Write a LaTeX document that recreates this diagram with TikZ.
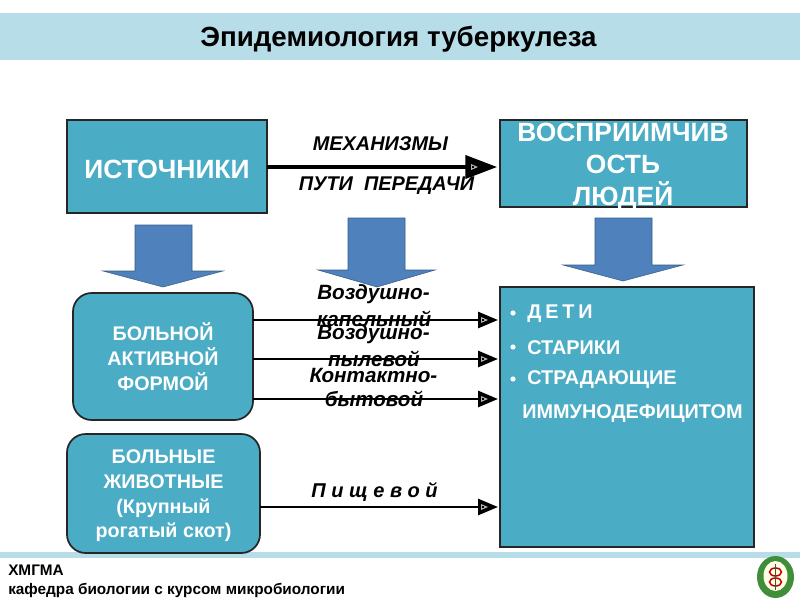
\documentclass[tikz,border=0pt]{standalone}
\usepackage{fontspec}
\setmainfont{Liberation Sans}
\usetikzlibrary{arrows.meta}
\definecolor{boxc}{HTML}{4BACC6}
\definecolor{bandc}{HTML}{B7DDE8}
\definecolor{blockc}{HTML}{4F81BD}
\definecolor{medg}{HTML}{3F8F3A}
\tikzset{x=0.75pt,y=-0.75pt,
  sq/.style={draw=black!85,line width=1.3pt,fill=boxc,text=white,font=\fontsize{19.8}{22}\selectfont\bfseries,align=center,inner sep=0pt,outer sep=0pt},
  rnd/.style={sq,rounded corners=14pt,font=\fontsize{14.8}{18.5}\selectfont\bfseries},
  boxtext/.style={text=white,align=center,inner sep=0pt},
  conn/.style={draw=black,line width=2.1pt,shorten >=1.5pt,-{Triangle[length=15pt,width=12pt]}},
  bigconn/.style={draw=black,line width=3.6pt,shorten >=2pt,-{Triangle[length=24pt,width=17pt]}},
  blockarr/.style={fill=blockc,draw=blockc!70!black,line width=0.4pt},
  lab/.style={font=\fontsize{15.5}{16}\selectfont\itshape\bfseries,align=center,inner sep=0pt,text=black},
  lab2/.style={lab,font=\fontsize{14.9}{16}\selectfont\itshape\bfseries},
  item/.style={anchor=west,text=white,font=\fontsize{14.9}{16}\selectfont\bfseries,inner sep=0pt},
  foot/.style={anchor=west,font=\fontsize{11.5}{13}\selectfont\bfseries,inner sep=0pt,text=black}}
\newcommand{\innertip}[2]{\fill[white!70!black] (#1-12,#2-3) -- (#1-5,#2) -- (#1-12,#2+3) -- cycle;\fill[black] (#1-11,#2-1) rectangle (#1-9,#2+1);}
\begin{document}
\begin{tikzpicture}
\useasboundingbox (0,0) rectangle (800,600);
\fill[white] (0,0) rectangle (800,600);
\fill[bandc] (0,13) rectangle (800,60);
\fill[bandc] (0,552) rectangle (800,558);
\node[font=\fontsize{20.8}{24}\selectfont\bfseries,text=black,inner sep=0pt] (title) at (398.5,39.5) {Эпидемиология туберкулеза};
% boxes
\node[sq,anchor=north west,minimum width=150pt,minimum height=69.75pt] (src) at (67,120) {};
\node[font=\fontsize{19.8}{22}\selectfont\bfseries,boxtext] (srctxt) at (167,169) {ИСТОЧНИКИ};
\node[sq,anchor=north west,minimum width=185.25pt,minimum height=65.25pt] (rec) at (500,120) {};
\node[rnd,anchor=north west,minimum width=135pt,minimum height=95.25pt] (sick) at (73,293) {БОЛЬНОЙ\\АКТИВНОЙ\\ФОРМОЙ};
\node[rnd,anchor=north west,minimum width=144.75pt,minimum height=89.25pt] (anim) at (67,434) {};
\node[font=\fontsize{14.8}{18.5}\selectfont\bfseries,boxtext] (animtxt) at (163.5,496) {БОЛЬНЫЕ\\ЖИВОТНЫЕ\\(Крупный\\рогатый скот)};
\node[sq,anchor=north west,minimum width=190.5pt,minimum height=195pt] (grp) at (500,287) {};
% text of the receptive box overflows it
\node[font=\fontsize{19.8}{24}\selectfont\bfseries,boxtext] (rectxt) at (623,167) {ВОСПРИИМЧИВ\\ОСТЬ\\ЛЮДЕЙ};
% block arrows
\draw[blockarr] (135,225) -- (192,225) -- (192,271) -- (223,271) -- (163,287) -- (103,271) -- (135,271) -- cycle;
\draw[blockarr] (595,218) -- (652,218) -- (652,265) -- (683,265) -- (623,281) -- (563,265) -- (595,265) -- cycle;
\draw[blockarr] (348,218) -- (405,218) -- (405,270) -- (435,270) -- (377,287) -- (318,270) -- (348,270) -- cycle;
% labels
\node[lab2] (m1) at (380.5,144) {МЕХАНИЗМЫ};
\node[lab2] (m2) at (386.5,186) {ПУТИ~ ПЕРЕДАЧИ};
\node[lab] (l1a) at (373.5,294) {Воздушно-};
\node[lab] (l1b) at (374,319) {капельный};
\node[lab] (l2a) at (373.5,334) {Воздушно-};
\node[lab] (l2b) at (374,359) {пылевой};
\node[lab] (l3a) at (373.5,375) {Контактно-};
\node[lab] (l3b) at (374,399) {бытовой};
\node[lab,font=\fontsize{15}{16}\selectfont\itshape\bfseries] (l4) at (374.5,492) {П и щ е в о й};
% coordinates
\coordinate (a1) at (sick.east|-0,320);
\coordinate (a2) at (sick.east|-0,359);
\coordinate (a3) at (sick.east|-0,399);
\coordinate (b1) at (grp.west|-0,320);
\coordinate (b2) at (grp.west|-0,359);
\coordinate (b3) at (grp.west|-0,399);
\coordinate (a4) at (anim.east|-0,507);
\coordinate (b4) at (grp.west|-0,507);
\coordinate (r1) at (rec.west|-0,167);
\coordinate (s1) at (src.east|-0,167);
% connectors
\draw[bigconn] (s1) -- (r1);
\draw[conn] (a1) -- (b1);
\draw[conn] (a2) -- (b2);
\draw[conn] (a3) -- (b3);
\draw[conn] (a4) -- (b4);
\innertip{493}{320}\innertip{493}{359}\innertip{493}{399}\innertip{493}{507}\innertip{483}{167}
% list
\foreach \y/\t in {348/СТАРИКИ,380/СТРАДАЮЩИЕ}{
  \fill[white] (513,\y-1) circle (2.6);
  \node[item] at (527,\y) {\t};
}
\fill[white] (513,313) circle (2.6);
\node[item] (kids) at (527,314) {\spaceskip=2.9pt Д Е Т И};
\node[item] (imm) at (522,414) {ИММУНОДЕФИЦИТОМ};
% footer
\node[foot] (f1) at (8,570) {ХМГМА};
\node[foot] (f2) at (8,590) {кафедра биологии с курсом микробиологии};
% emblem
\fill[medg] (775.5,577) ellipse (18.5 and 21);
\fill[white!90!yellow] (775.5,576) ellipse (12 and 15);
\draw[red!75!black,line width=1.1pt] (775.5,572) ellipse (6 and 4);
\draw[red!75!black,line width=1.1pt] (775.5,582) ellipse (6 and 4);
\draw[medg!70!black,line width=0.8pt] (775.5,564) -- (775.5,590);
\end{tikzpicture}
\end{document}
